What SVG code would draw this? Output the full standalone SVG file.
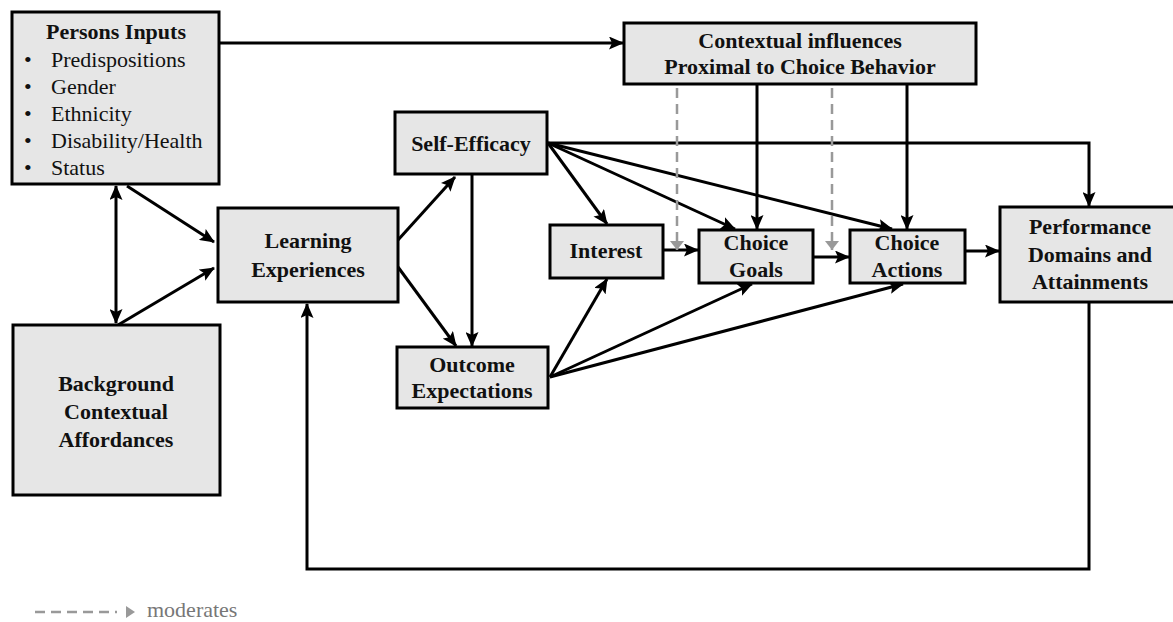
<svg xmlns="http://www.w3.org/2000/svg" width="1173" height="622" viewBox="0 0 1173 622">
<style>
.box{fill:#e6e6e6;stroke:#000;stroke-width:3}
.t{font-family:"Liberation Serif","Times New Roman",serif;font-size:22px;font-weight:bold;fill:#111;text-anchor:middle}
.r{font-family:"Liberation Serif","Times New Roman",serif;font-size:22px;fill:#111}
.c{fill:none;stroke:#000;stroke-width:3}
.d{fill:none;stroke:#999;stroke-width:2.5;stroke-dasharray:10 6}
</style>
<defs>
<marker id="a" markerUnits="userSpaceOnUse" markerWidth="15" markerHeight="13" refX="14" refY="6.5" orient="auto-start-reverse" viewBox="0 0 15 13">
<path d="M0,0 L15,6.5 L0,13 L3,6.5 z" fill="#000"/>
</marker>
<marker id="g" markerUnits="userSpaceOnUse" markerWidth="9" markerHeight="14" refX="9" refY="7" orient="auto" viewBox="0 0 9 14">
<path d="M0,0 L9,7 L0,14 z" fill="#999"/>
</marker>
</defs>
<g id="connectors">
<path class="c" d="M219,43 H623" marker-end="url(#a)"/>
<path class="c" d="M116,186 V323" marker-start="url(#a)" marker-end="url(#a)"/>
<path class="c" d="M127,186 L214,242" marker-end="url(#a)"/>
<path class="c" d="M118,325 L214,268" marker-end="url(#a)"/>
<path class="c" d="M398,240 L455,177" marker-end="url(#a)"/>
<path class="c" d="M398,267 L456,346" marker-end="url(#a)"/>
<path class="c" d="M472,174 V346" marker-end="url(#a)"/>
<path class="c" d="M548,143 L607,224" marker-end="url(#a)"/>
<path class="c" d="M548,143 L735,229" marker-end="url(#a)"/>
<path class="c" d="M548,143 L892,229" marker-end="url(#a)"/>
<path class="c" d="M548,143 H1089 V206" marker-end="url(#a)"/>
<path class="c" d="M550,377 L607,279" marker-end="url(#a)"/>
<path class="c" d="M550,377 L752,284" marker-end="url(#a)"/>
<path class="c" d="M550,377 L903,284" marker-end="url(#a)"/>
<path class="c" d="M663,250 H698" marker-end="url(#a)"/>
<path class="c" d="M813,257 H849" marker-end="url(#a)"/>
<path class="c" d="M965,251 H999" marker-end="url(#a)"/>
<path class="c" d="M757,84 V229" marker-end="url(#a)"/>
<path class="c" d="M907,84 V229" marker-end="url(#a)"/>
<path class="d" d="M677,88 V250" marker-end="url(#g)"/>
<path class="d" d="M832,88 V250" marker-end="url(#g)"/>
<path class="c" d="M1089,302 V569 H307 V304" marker-end="url(#a)"/>
</g>
<g id="persons">
<rect class="box" x="12" y="12" width="207" height="172"/>
<text class="t" x="116" y="39">Persons Inputs</text>
<text class="r" x="24" y="67">•</text><text class="r" x="51" y="67">Predispositions</text>
<text class="r" x="24" y="94">•</text><text class="r" x="51" y="94">Gender</text>
<text class="r" x="24" y="121">•</text><text class="r" x="51" y="121">Ethnicity</text>
<text class="r" x="24" y="148">•</text><text class="r" x="51" y="148">Disability/Health</text>
<text class="r" x="24" y="175">•</text><text class="r" x="51" y="175">Status</text>
</g>
<g id="background">
<rect class="box" x="13" y="325" width="207" height="170"/>
<text class="t" x="116" y="391">Background</text>
<text class="t" x="116" y="419">Contextual</text>
<text class="t" x="116" y="447">Affordances</text>
</g>
<g id="learning">
<rect class="box" x="218" y="208" width="180" height="94"/>
<text class="t" x="308" y="248">Learning</text>
<text class="t" x="308" y="277">Experiences</text>
</g>
<g id="selfefficacy">
<rect class="box" x="395" y="112" width="152" height="62"/>
<text class="t" x="471" y="151">Self-Efficacy</text>
</g>
<g id="outcome">
<rect class="box" x="397" y="347" width="151" height="61"/>
<text class="t" x="472" y="372">Outcome</text>
<text class="t" x="472" y="398">Expectations</text>
</g>
<g id="interest">
<rect class="box" x="550" y="225" width="113" height="53"/>
<text class="t" x="606" y="258">Interest</text>
</g>
<g id="goals">
<rect class="box" x="699" y="230" width="114" height="53"/>
<text class="t" x="756" y="250">Choice</text>
<text class="t" x="756" y="277">Goals</text>
</g>
<g id="actions">
<rect class="box" x="850" y="230" width="115" height="53"/>
<text class="t" x="907" y="250">Choice</text>
<text class="t" x="907" y="277">Actions</text>
</g>
<g id="contextual">
<rect class="box" x="624" y="23" width="352" height="61"/>
<text class="t" x="800" y="48">Contextual influences</text>
<text class="t" x="800" y="74">Proximal to Choice Behavior</text>
</g>
<g id="performance">
<rect class="box" x="1000" y="207" width="180" height="95"/>
<text class="t" x="1090" y="234">Performance</text>
<text class="t" x="1090" y="262">Domains and</text>
<text class="t" x="1090" y="289">Attainments</text>
</g>
<g id="legend">
<path class="d" d="M35,612 H117" stroke-dasharray="13 10"/>
<path d="M126,606 L135,612 L126,618 z" fill="#999"/>
<text class="r" x="147" y="617" style="fill:#777">moderates</text>
</g>
</svg>
